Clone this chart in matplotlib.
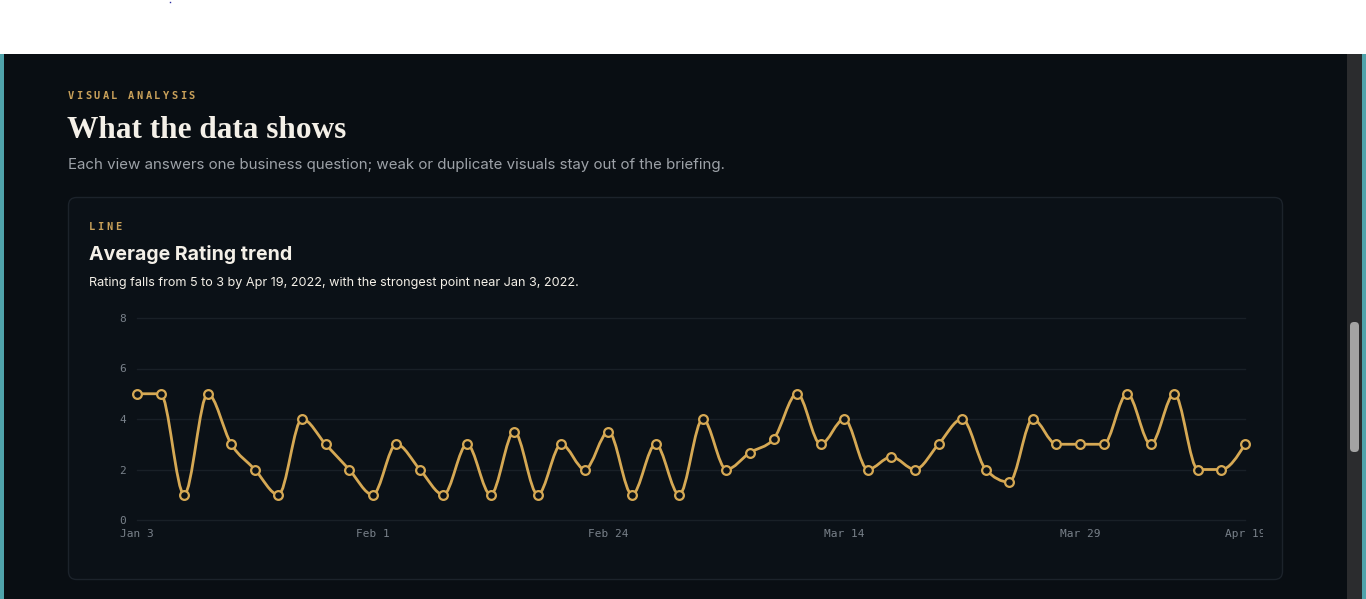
"""Average rating trend card, dark dashboard style."""
import matplotlib
matplotlib.use("Agg")
import matplotlib.pyplot as plt
from matplotlib.patches import FancyBboxPatch, Rectangle, PathPatch
from matplotlib.path import Path
from matplotlib.transforms import Bbox, TransformedBbox, IdentityTransform

# data
ratings = [5, 5, 1, 5, 3, 2, 1, 4, 3, 2,
           1, 3, 2, 1, 3, 1, 3.5, 1, 3, 2,
           3.5, 1, 3, 1, 4, 2, 2.67, 3.2, 5, 3,
           4, 2, 2.5, 2, 3, 4, 2, 1.5, 4, 3,
           3, 3, 5, 3, 5, 2, 2, 3]
tick_pos = [0, 10, 20, 30, 40, 47]
tick_labels = ["Jan 3", "Feb 1", "Feb 24", "Mar 14", "Mar 29", "Apr 19"]
y_ticks = [0, 2, 4, 6, 8]

W, H = 1366, 599
BG = "#090e13"
CARD = "#0b1117"
CARD_EDGE = "#1c232b"
GOLD = "#d6a954"
LABEL_GOLD = "#c9a15a"
WHITE = "#f4f0e8"
MUTED = "#9da2a8"
TICK = "#79818a"
GRID = "#192027"
MONO = "DejaVu Sans Mono"
SANS = "Inter"


def monotone_path(xs, ys):
    """Bezier path matching d3.curveMonotoneX through the points."""
    n = len(xs)
    t = [0.0] * n
    for i in range(1, n - 1):
        h0 = xs[i] - xs[i - 1]
        h1 = xs[i + 1] - xs[i]
        s0 = (ys[i] - ys[i - 1]) / h0
        s1 = (ys[i + 1] - ys[i]) / h1
        p = (s0 * h1 + s1 * h0) / (h0 + h1)
        sg = (s0 > 0) - (s0 < 0) + (s1 > 0) - (s1 < 0)
        t[i] = sg * min(abs(s0), abs(s1), 0.5 * abs(p)) if sg else 0.0
    h = xs[1] - xs[0]
    t[0] = (3 * (ys[1] - ys[0]) / h - t[1]) / 2
    h = xs[-1] - xs[-2]
    t[-1] = (3 * (ys[-1] - ys[-2]) / h - t[-2]) / 2
    verts = [(xs[0], ys[0])]
    codes = [Path.MOVETO]
    for i in range(n - 1):
        dx = (xs[i + 1] - xs[i]) / 3
        verts += [(xs[i] + dx, ys[i] + dx * t[i]),
                  (xs[i + 1] - dx, ys[i + 1] - dx * t[i + 1]),
                  (xs[i + 1], ys[i + 1])]
        codes += [Path.CURVE4] * 3
    return Path(verts, codes)


def spaced(ax, x, y, s, pitch, **kw):
    for i, ch in enumerate(s):
        ax.text(x + i * pitch, y, ch, va="center", ha="left", **kw)


fig = plt.figure(figsize=(W / 100, H / 100), dpi=100)
fig.patch.set_facecolor(BG)

# page decorations in pixel coordinates
bg = fig.add_axes([0, 0, 1, 1])
bg.set_xlim(0, W)
bg.set_ylim(H, 0)
bg.axis("off")
bg.add_patch(Rectangle((0, 0), W, 54, color="white", lw=0))
bg.plot([170], [2], marker="s", ms=1, color="#2a2aa0", mew=0)
bg.add_patch(Rectangle((0, 54), 4, H - 54, color="#4fa3ab", lw=0))
bg.add_patch(Rectangle((1347, 54), 15, H - 54, color="#2b2c2e", lw=0))
bg.add_patch(FancyBboxPatch((1350, 322), 9, 130, boxstyle="round,pad=0,rounding_size=4",
                            fc="#a3a3a3", ec="none"))
bg.add_patch(Rectangle((1362, 54), 4, H - 54, color="#4fa3ab", lw=0))
bg.add_patch(FancyBboxPatch((68.5, 197.5), 1214, 382, boxstyle="round,pad=0,rounding_size=8",
                            fc=CARD, ec=CARD_EDGE, lw=1))

spaced(bg, 68, 96, "VISUAL ANALYSIS", 8.6, family=MONO, fontsize=7.5,
       fontweight="bold", color=LABEL_GOLD)
bg.text(67, 131, "What the data shows", family="Liberation Serif", fontsize=22.5,
        fontweight="bold", color=WHITE, va="center", ha="left")
bg.text(68, 164.5, "Each view answers one business question; weak or duplicate visuals "
        "stay out of the briefing.", family=SANS, fontsize=10.85, color=MUTED,
        va="center", ha="left")
spaced(bg, 89, 226.5, "LINE", 8.6, family=MONO, fontsize=7.5,
       fontweight="bold", color=LABEL_GOLD)
bg.text(89, 255, "Average Rating trend", family=SANS, fontsize=14.05,
        fontweight="bold", color=WHITE, va="center", ha="left")
bg.text(89, 283, "Rating falls from 5 to 3 by Apr 19, 2022, with the strongest point "
        "near Jan 3, 2022.", family=SANS, fontsize=9.1, color=WHITE,
        va="center", ha="left")

# chart
ax = fig.add_axes([137 / W, (H - 520) / H, (1245 - 137) / W, (520 - 318) / H])
ax.set_facecolor("none")
xs = list(range(len(ratings)))
ax.set_xlim(0, len(ratings) - 1)
ax.set_ylim(0, 8)
for sp in ax.spines.values():
    sp.set_visible(False)
for y in y_ticks:
    ax.axhline(y, color=GRID, lw=1, zorder=1, clip_on=False)
ax.add_patch(PathPatch(monotone_path(xs, ratings), fc="none", ec=GOLD, lw=2,
                       zorder=3, capstyle="round", joinstyle="round"))
ax.plot(xs, ratings, ls="none", marker="o", ms=6.3, mfc=CARD, mec=GOLD,
        mew=1.6, zorder=4, clip_on=False)

ax.set_yticks(y_ticks)
ax.set_yticklabels([str(v) for v in y_ticks])
ax.set_xticks(tick_pos)
ax.set_xticklabels(tick_labels)
ax.tick_params(length=0, colors=TICK, labelsize=8)
ax.tick_params(axis="y", pad=8)
ax.tick_params(axis="x", pad=6.5)
for lab in ax.get_xticklabels() + ax.get_yticklabels():
    lab.set_family(MONO)
# the last date label is cut by the chart's edge
clip = TransformedBbox(Bbox.from_extents(0, 0, 1263, H), IdentityTransform())
ax.get_xticklabels()[-1].set_clip_box(clip)
ax.get_xticklabels()[-1].set_clip_on(True)

fig.savefig("out.png", dpi=100, facecolor=BG)
